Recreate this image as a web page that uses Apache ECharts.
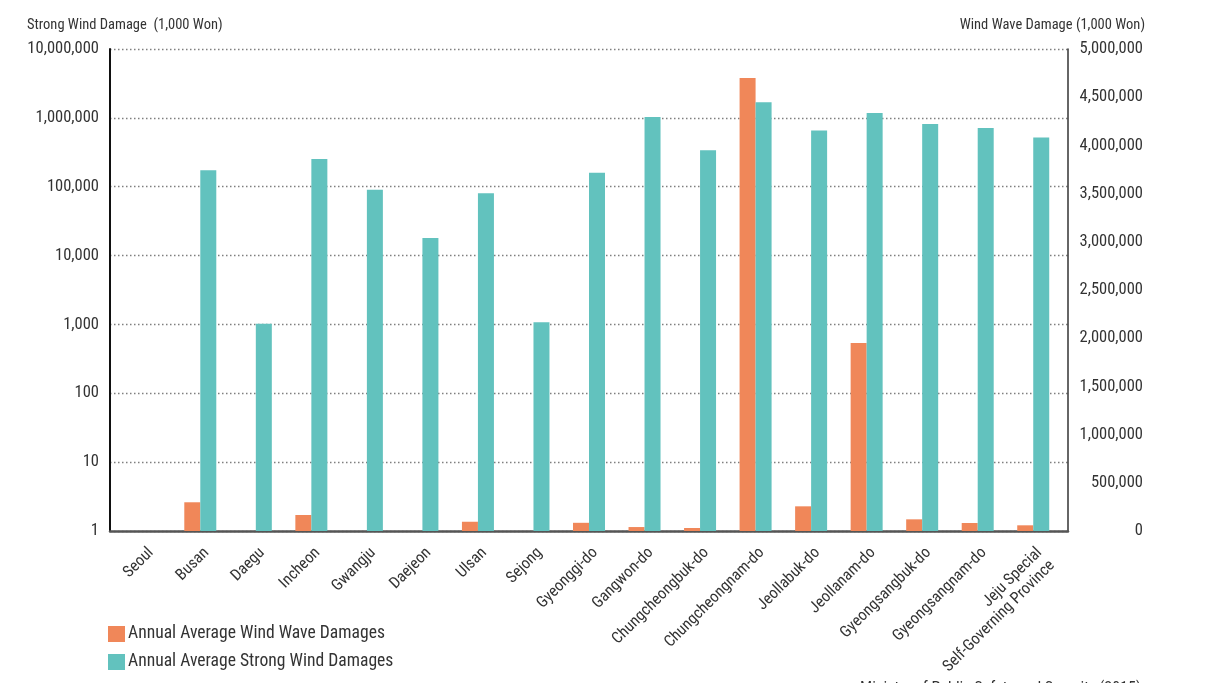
<!DOCTYPE html>
<html>
<head>
<meta charset="utf-8">
<title>Wind damage by region</title>
<script src="https://cdn.jsdelivr.net/npm/echarts@6/dist/echarts.min.js"></script>
<style>
  html, body { margin: 0; padding: 0; background: #ffffff; }
  #chart { width: 1206px; height: 683px; }
</style>
</head>
<body>
<div id="chart"></div>
<script>
// Regions along the category axis
const regions = [
  'Seoul', 'Busan', 'Daegu', 'Incheon', 'Gwangju', 'Daejeon', 'Ulsan', 'Sejong',
  'Gyeonggi-do', 'Gangwon-do', 'Chungcheongbuk-do', 'Chungcheongnam-do',
  'Jeollabuk-do', 'Jeollanam-do', 'Gyeongsangbuk-do', 'Gyeongsangnam-do',
  'Jeju Special\nSelf-Governing Province'
];

// Annual average wind wave damages (1,000 Won), right linear axis
const windWaveDamage = [
  null, 298000, null, 166000, null, null, 96000, null,
  85000, 41000, 31000, 4700000,
  256000, 1950000, 121000, 83000, 59000
];

// Annual average strong wind damages (1,000 Won), left log axis
const strongWindDamage = [
  null, 173000, 1020, 253000, 90000, 18000, 80600, 1080,
  160000, 1030000, 339000, 1690000,
  655000, 1180000, 813000, 714000, 518000
];

// Axis ranges
const leftAxisMin = 1;
const leftAxisMax = 10000000;
const rightAxisMin = 0;
const rightAxisMax = 5000000;
const rightAxisStep = 500000;

const seriesNames = ['Annual Average Wind Wave Damages', 'Annual Average Strong Wind Damages'];
const colors = ['#F08759', '#62C2BE'];

const FONT = '"Roboto Condensed", "DejaVu Sans Condensed", sans-serif';
const TEXT = '#333333';
const fmt = v => Number(v).toLocaleString('en-US');

const chart = echarts.init(document.getElementById('chart'), null, { renderer: 'canvas' });

chart.setOption({
  animation: false,
  backgroundColor: '#ffffff',
  textStyle: { fontFamily: FONT, color: TEXT },
  title: [
    { text: 'Strong Wind Damage  (1,000 Won)', left: 27, top: 18, padding: 0,
      textStyle: { fontFamily: FONT, fontSize: 14.5, fontWeight: 'normal', color: TEXT } },
    { text: 'Wind Wave Damage (1,000 Won)', right: 61, top: 18, padding: 0,
      textStyle: { fontFamily: FONT, fontSize: 14.5, fontWeight: 'normal', color: TEXT } },
    { text: 'Ministry of Public Safety and Security (2015)', right: 65, top: 681, padding: 0,
      textStyle: { fontFamily: FONT, fontSize: 16, fontWeight: 'normal', color: TEXT } }
  ],
  legend: {
    orient: 'vertical',
    left: 103,
    top: 620,
    itemWidth: 17,
    itemHeight: 16,
    itemGap: 10,
    icon: 'rect',
    data: seriesNames,
    textStyle: { fontFamily: FONT, fontSize: 17.6, color: TEXT, padding: [0, 0, 0, -2] }
  },
  grid: [
    // frame: axis lines, gridlines and tick labels
    { left: 110, right: 138, top: 49, bottom: 152 },
    // plot band for the bars, inset from the frame
    { left: 117, right: 145, top: 49, bottom: 152 }
  ],
  xAxis: [
    {
      gridIndex: 0, type: 'category', data: regions,
      axisLine: { show: true, lineStyle: { color: '#555555', width: 2.5 } },
      axisTick: { show: false }, axisLabel: { show: false }, splitLine: { show: false }
    },
    {
      gridIndex: 1, type: 'category', data: regions,
      axisLine: { show: false }, axisTick: { show: false },
      axisLabel: {
        interval: 0, rotate: 45, margin: 13,
        fontFamily: FONT, fontSize: 16, color: TEXT, lineHeight: 18,
        align: 'right', verticalAlign: 'top'
      }
    }
  ],
  yAxis: [
    {
      gridIndex: 0, type: 'log', logBase: 10, min: leftAxisMin, max: leftAxisMax, position: 'left',
      axisLine: { show: true, lineStyle: { color: '#111111', width: 2 } },
      axisTick: { show: false },
      axisLabel: { fontFamily: FONT, fontSize: 16.5, color: TEXT, margin: 11, formatter: fmt },
      splitLine: { show: true, lineStyle: { color: '#7f7f7f', width: 1.3, type: [1.5, 2.5] } }
    },
    {
      gridIndex: 0, type: 'value', min: rightAxisMin, max: rightAxisMax, interval: rightAxisStep,
      position: 'right',
      axisLine: { show: true, lineStyle: { color: '#333333', width: 1.5 } },
      axisTick: { show: false },
      axisLabel: { fontFamily: FONT, fontSize: 16.5, color: TEXT, margin: 75, align: 'right', formatter: fmt },
      splitLine: { show: false }
    },
    {
      gridIndex: 1, type: 'log', logBase: 10, min: leftAxisMin, max: leftAxisMax, show: false
    },
    {
      gridIndex: 1, type: 'value', min: rightAxisMin, max: rightAxisMax, interval: rightAxisStep, show: false
    }
  ],
  series: [
    {
      name: seriesNames[0], type: 'bar', xAxisIndex: 1, yAxisIndex: 3,
      data: windWaveDamage, barWidth: 16, barGap: '0%',
      itemStyle: { color: colors[0] }
    },
    {
      name: seriesNames[1], type: 'bar', xAxisIndex: 1, yAxisIndex: 2,
      data: strongWindDamage, barWidth: 16, barGap: '0%',
      itemStyle: { color: colors[1] }
    }
  ]
});
</script>
</body>
</html>
